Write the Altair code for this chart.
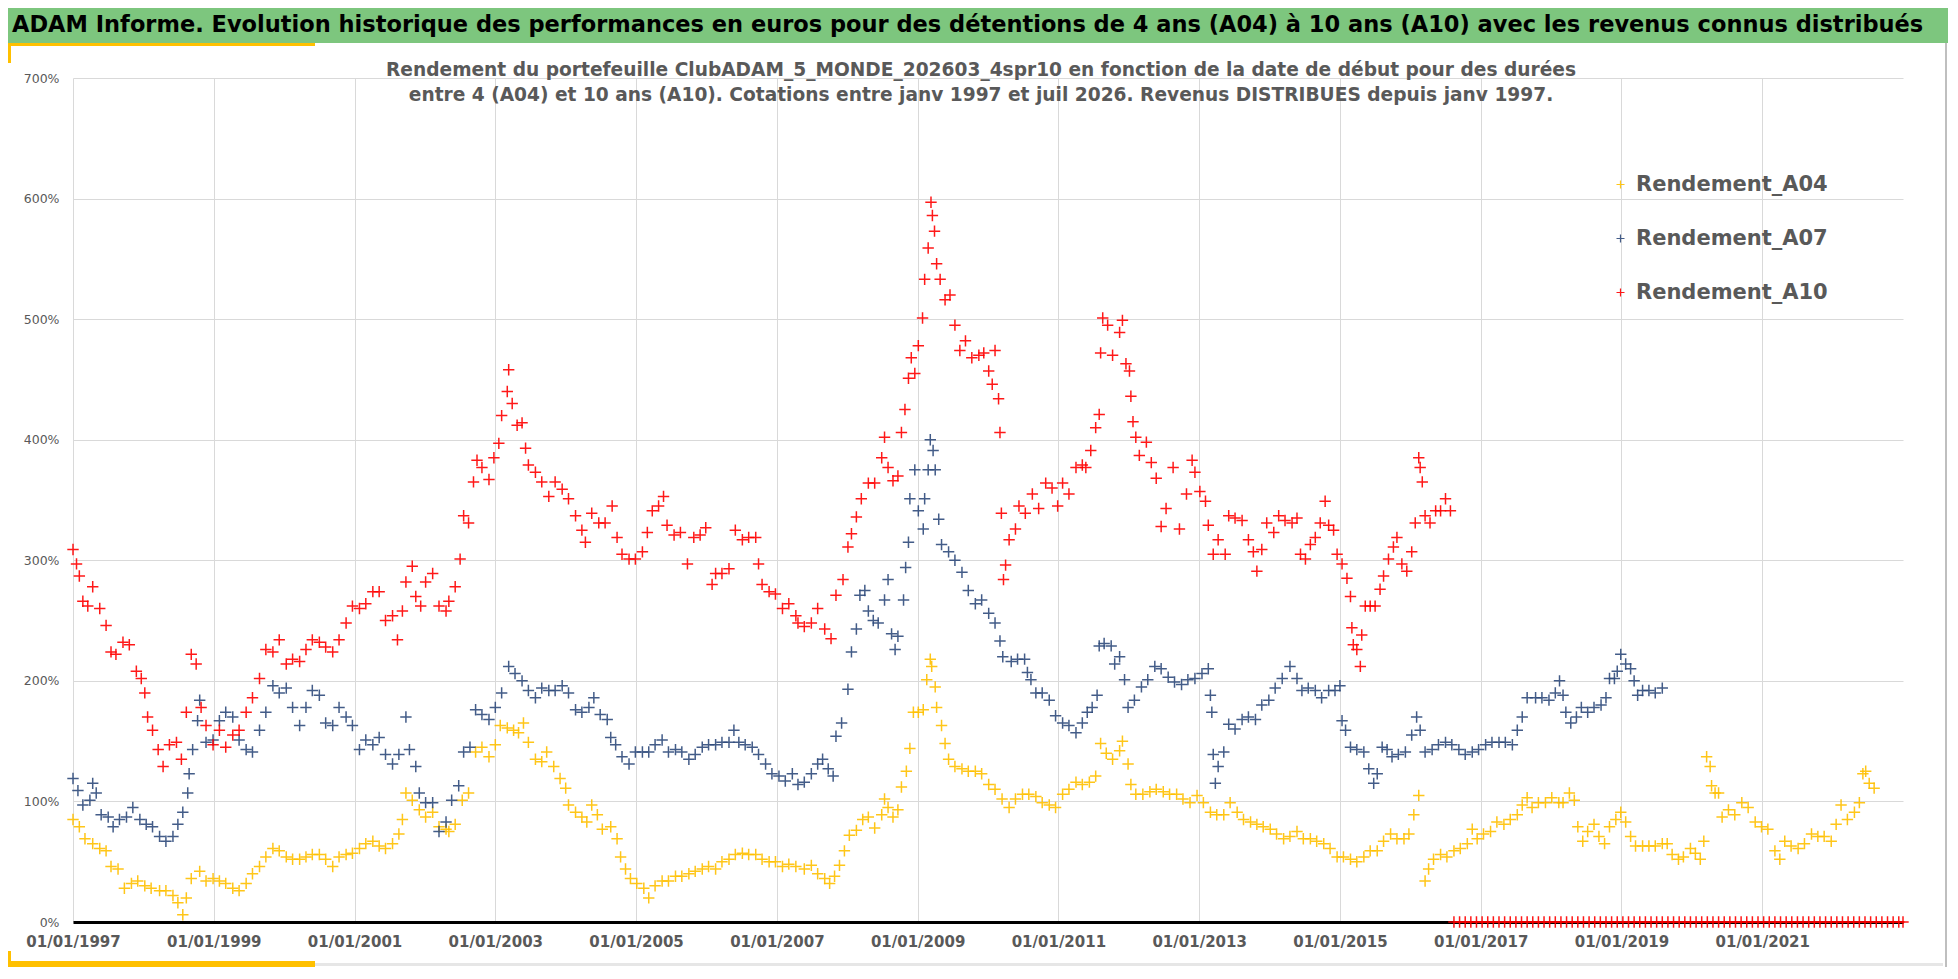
import pandas as pd
import altair as alt

# valeurs : (date en années décimales, rendement en %)
A04 = [
    (1997.00, 85), (1997.09, 79), (1997.17, 69), (1997.28, 65), (1997.38, 61), (1997.47, 59),
    (1997.54, 46), (1997.64, 44), (1997.73, 28), (1997.83, 32), (1997.92, 34), (1998.02, 30),
    (1998.11, 28), (1998.23, 26), (1998.32, 26), (1998.42, 22), (1998.49, 16), (1998.56, 6),
    (1998.61, 20), (1998.68, 36), (1998.80, 42), (1998.89, 34), (1998.99, 36), (1999.08, 34),
    (1999.17, 32), (1999.27, 28), (1999.36, 26), (1999.46, 32), (1999.55, 40), (1999.65, 46),
    (1999.74, 54), (1999.84, 61), (1999.93, 59), (2000.03, 54), (2000.12, 52), (2000.22, 52),
    (2000.31, 54), (2000.40, 56), (2000.50, 56), (2000.59, 52), (2000.69, 46), (2000.78, 54),
    (2000.88, 56), (2000.97, 57), (2001.07, 61), (2001.16, 65), (2001.26, 67), (2001.35, 63),
    (2001.44, 61), (2001.54, 65), (2001.63, 73), (2001.68, 85), (2001.73, 107), (2001.82, 101),
    (2001.92, 93), (2002.01, 87), (2002.11, 91), (2002.20, 79), (2002.30, 77), (2002.34, 75),
    (2002.43, 81), (2002.53, 101), (2002.62, 107), (2002.72, 141), (2002.81, 145), (2002.91, 137),
    (2003.00, 147), (2003.07, 163), (2003.17, 161), (2003.26, 159), (2003.33, 157), (2003.40, 165),
    (2003.47, 149), (2003.57, 135), (2003.66, 133), (2003.73, 141), (2003.83, 129), (2003.92, 119),
    (2004.00, 111), (2004.04, 97), (2004.14, 91), (2004.23, 87), (2004.30, 83), (2004.37, 97),
    (2004.45, 89), (2004.52, 77), (2004.64, 79), (2004.73, 69), (2004.78, 54), (2004.85, 44),
    (2004.92, 36), (2005.01, 32), (2005.11, 28), (2005.18, 20), (2005.27, 30), (2005.37, 34),
    (2005.46, 34), (2005.56, 38), (2005.65, 38), (2005.75, 40), (2005.84, 42), (2005.94, 44),
    (2006.03, 46), (2006.13, 44), (2006.22, 50), (2006.32, 52), (2006.41, 56), (2006.51, 57),
    (2006.60, 56), (2006.70, 56), (2006.79, 52), (2006.89, 50), (2006.98, 50), (2007.08, 46),
    (2007.17, 48), (2007.27, 46), (2007.39, 44), (2007.49, 47), (2007.58, 40), (2007.68, 36),
    (2007.75, 32), (2007.82, 38), (2007.89, 47), (2007.96, 59), (2008.03, 72), (2008.13, 76),
    (2008.22, 85), (2008.30, 87), (2008.39, 78), (2008.49, 89), (2008.53, 102), (2008.58, 95),
    (2008.65, 87), (2008.72, 93), (2008.77, 112), (2008.84, 125), (2008.89, 144), (2008.94, 174),
    (2009.01, 174), (2009.08, 176), (2009.13, 201), (2009.18, 218), (2009.20, 212), (2009.25, 195),
    (2009.27, 178), (2009.34, 163), (2009.39, 148), (2009.44, 135), (2009.53, 129), (2009.63, 127),
    (2009.72, 125), (2009.82, 125), (2009.91, 123), (2010.01, 114), (2010.10, 110), (2010.20, 102),
    (2010.30, 95), (2010.39, 102), (2010.49, 106), (2010.58, 106), (2010.68, 104), (2010.77, 99),
    (2010.87, 97), (2010.96, 95), (2011.06, 106), (2011.15, 110), (2011.25, 116), (2011.34, 114),
    (2011.44, 116), (2011.53, 121), (2011.60, 148), (2011.68, 140), (2011.77, 135), (2011.87, 142),
    (2011.91, 150), (2011.99, 131), (2012.03, 114), (2012.10, 106), (2012.20, 106), (2012.30, 108),
    (2012.39, 110), (2012.49, 108), (2012.58, 106), (2012.68, 106), (2012.77, 102), (2012.87, 99),
    (2012.97, 105), (2013.06, 99), (2013.16, 91), (2013.25, 89), (2013.35, 89), (2013.44, 99),
    (2013.54, 91), (2013.63, 85), (2013.73, 83), (2013.82, 81), (2013.91, 79), (2014.01, 77),
    (2014.10, 73), (2014.20, 69), (2014.29, 71), (2014.39, 75), (2014.48, 69), (2014.58, 69),
    (2014.67, 67), (2014.77, 65), (2014.86, 61), (2014.96, 54), (2015.05, 54), (2015.15, 52),
    (2015.24, 50), (2015.34, 54), (2015.43, 59), (2015.53, 59), (2015.62, 67), (2015.72, 73),
    (2015.81, 69), (2015.91, 69), (2015.98, 73), (2016.05, 89), (2016.12, 105), (2016.21, 34),
    (2016.26, 44), (2016.33, 52), (2016.43, 56), (2016.52, 54), (2016.62, 59), (2016.71, 61),
    (2016.81, 65), (2016.88, 77), (2016.95, 69), (2017.04, 73), (2017.14, 75), (2017.23, 83),
    (2017.33, 81), (2017.42, 85), (2017.52, 89), (2017.59, 97), (2017.66, 103), (2017.73, 95),
    (2017.82, 99), (2017.92, 99), (2018.01, 103), (2018.11, 99), (2018.17, 99), (2018.26, 107),
    (2018.33, 101), (2018.38, 79), (2018.45, 67), (2018.52, 75), (2018.61, 81), (2018.68, 71),
    (2018.76, 65), (2018.83, 79), (2018.92, 85), (2018.99, 91), (2019.06, 83), (2019.13, 71),
    (2019.20, 63), (2019.30, 63), (2019.39, 63), (2019.48, 63), (2019.58, 65), (2019.65, 65),
    (2019.72, 56), (2019.81, 52), (2019.88, 54), (2019.98, 61), (2020.05, 57), (2020.12, 52),
    (2020.17, 67), (2020.21, 137), (2020.26, 129), (2020.28, 113), (2020.33, 107), (2020.38, 107),
    (2020.43, 87), (2020.52, 93), (2020.61, 89), (2020.71, 99), (2020.80, 95), (2020.90, 83),
    (2020.99, 79), (2021.08, 77), (2021.18, 59), (2021.25, 52), (2021.32, 67), (2021.41, 63),
    (2021.51, 61), (2021.60, 65), (2021.70, 73), (2021.79, 71), (2021.88, 71), (2021.98, 67),
    (2022.05, 81), (2022.12, 97), (2022.21, 85), (2022.31, 91), (2022.38, 99), (2022.43, 123),
    (2022.47, 125), (2022.52, 115), (2022.59, 111),
]

A07 = [
    (1997.00, 119), (1997.07, 109), (1997.14, 97), (1997.24, 101), (1997.28, 115), (1997.33, 107),
    (1997.40, 89), (1997.50, 87), (1997.57, 79), (1997.66, 85), (1997.76, 87), (1997.85, 95),
    (1997.95, 85), (1998.04, 81), (1998.13, 79), (1998.23, 71), (1998.32, 67), (1998.42, 71),
    (1998.49, 81), (1998.56, 91), (1998.63, 107), (1998.65, 123), (1998.70, 143), (1998.77, 167),
    (1998.80, 184), (1998.89, 149), (1998.99, 151), (1999.08, 167), (1999.17, 174), (1999.27, 170),
    (1999.36, 151), (1999.46, 143), (1999.55, 141), (1999.65, 159), (1999.74, 174), (1999.84, 196),
    (1999.93, 190), (2000.03, 194), (2000.12, 178), (2000.22, 163), (2000.31, 178), (2000.40, 192),
    (2000.50, 188), (2000.59, 165), (2000.69, 163), (2000.78, 178), (2000.88, 170), (2000.97, 163),
    (2001.07, 143), (2001.16, 151), (2001.26, 147), (2001.35, 153), (2001.44, 139), (2001.54, 131),
    (2001.63, 139), (2001.73, 170), (2001.78, 143), (2001.87, 129), (2001.92, 107), (2002.01, 99),
    (2002.11, 99), (2002.20, 75), (2002.30, 83), (2002.38, 101), (2002.48, 113), (2002.55, 141),
    (2002.64, 145), (2002.72, 176), (2002.81, 172), (2002.91, 168), (2003.00, 178), (2003.09, 190),
    (2003.19, 212), (2003.28, 206), (2003.38, 200), (2003.47, 192), (2003.57, 186), (2003.66, 194),
    (2003.76, 192), (2003.85, 192), (2003.95, 196), (2004.04, 190), (2004.14, 176), (2004.23, 174),
    (2004.33, 178), (2004.40, 186), (2004.49, 172), (2004.59, 168), (2004.64, 153), (2004.71, 147),
    (2004.80, 137), (2004.90, 131), (2004.99, 141), (2005.09, 141), (2005.18, 141), (2005.27, 147),
    (2005.37, 151), (2005.46, 141), (2005.56, 143), (2005.65, 141), (2005.75, 135), (2005.84, 139),
    (2005.94, 145), (2006.03, 147), (2006.13, 147), (2006.22, 149), (2006.32, 149), (2006.39, 159),
    (2006.46, 149), (2006.55, 147), (2006.65, 145), (2006.74, 139), (2006.84, 131), (2006.93, 123),
    (2007.03, 121), (2007.12, 117), (2007.22, 123), (2007.30, 114), (2007.39, 116), (2007.49, 123),
    (2007.58, 131), (2007.65, 135), (2007.73, 127), (2007.80, 121), (2007.84, 154), (2007.92, 165),
    (2008.01, 193), (2008.06, 224), (2008.13, 243), (2008.18, 271), (2008.25, 275), (2008.30, 258),
    (2008.37, 250), (2008.44, 248), (2008.53, 267), (2008.58, 284), (2008.63, 239), (2008.68, 226),
    (2008.72, 237), (2008.80, 267), (2008.83, 294), (2008.87, 315), (2008.89, 351), (2008.96, 375),
    (2009.01, 341), (2009.08, 326), (2009.10, 351), (2009.15, 375), (2009.18, 400), (2009.22, 391),
    (2009.25, 375), (2009.30, 334), (2009.34, 313), (2009.44, 307), (2009.53, 300), (2009.63, 290),
    (2009.72, 275), (2009.82, 264), (2009.91, 267), (2010.01, 256), (2010.10, 248), (2010.17, 233),
    (2010.21, 220), (2010.33, 216), (2010.42, 218), (2010.52, 218), (2010.56, 207), (2010.61, 201),
    (2010.68, 190), (2010.77, 190), (2010.87, 184), (2010.96, 171), (2011.06, 165), (2011.15, 163),
    (2011.25, 157), (2011.34, 165), (2011.41, 174), (2011.48, 178), (2011.55, 188), (2011.58, 229),
    (2011.65, 231), (2011.75, 229), (2011.80, 214), (2011.87, 220), (2011.94, 201), (2011.99, 178),
    (2012.08, 184), (2012.18, 195), (2012.27, 201), (2012.37, 212), (2012.46, 210), (2012.56, 203),
    (2012.65, 199), (2012.75, 197), (2012.84, 201), (2012.94, 202), (2013.04, 206), (2013.13, 210),
    (2013.16, 188), (2013.18, 174), (2013.20, 139), (2013.23, 115), (2013.27, 129), (2013.35, 141),
    (2013.42, 164), (2013.51, 160), (2013.61, 168), (2013.70, 170), (2013.80, 168), (2013.89, 180),
    (2013.99, 184), (2014.08, 194), (2014.18, 202), (2014.29, 212), (2014.39, 202), (2014.46, 192),
    (2014.55, 194), (2014.65, 192), (2014.74, 186), (2014.84, 192), (2014.93, 192), (2015.00, 196),
    (2015.03, 167), (2015.08, 159), (2015.15, 145), (2015.24, 143), (2015.34, 141), (2015.41, 127),
    (2015.48, 115), (2015.53, 123), (2015.60, 145), (2015.67, 143), (2015.74, 137), (2015.83, 139),
    (2015.93, 141), (2016.02, 155), (2016.09, 170), (2016.14, 159), (2016.21, 141), (2016.31, 143),
    (2016.40, 147), (2016.50, 149), (2016.59, 147), (2016.69, 143), (2016.78, 139), (2016.88, 141),
    (2016.97, 143), (2017.07, 147), (2017.16, 149), (2017.26, 149), (2017.35, 149), (2017.45, 147),
    (2017.52, 159), (2017.59, 170), (2017.66, 186), (2017.78, 186), (2017.87, 186), (2017.97, 184),
    (2018.06, 190), (2018.12, 200), (2018.17, 188), (2018.21, 174), (2018.28, 165), (2018.36, 170),
    (2018.43, 178), (2018.52, 174), (2018.61, 178), (2018.71, 180), (2018.78, 186), (2018.83, 202),
    (2018.90, 202), (2018.94, 208), (2018.99, 222), (2019.06, 214), (2019.13, 210), (2019.18, 200),
    (2019.23, 188), (2019.30, 192), (2019.39, 192), (2019.48, 190), (2019.58, 194),
]

A10 = [
    (1997.00, 309), (1997.05, 297), (1997.09, 287), (1997.14, 266), (1997.21, 262), (1997.28, 278),
    (1997.38, 260), (1997.47, 246), (1997.54, 224), (1997.61, 222), (1997.71, 232), (1997.80, 230),
    (1997.90, 208), (1997.97, 202), (1998.02, 190), (1998.06, 170), (1998.13, 159), (1998.21, 143),
    (1998.28, 129), (1998.37, 147), (1998.47, 149), (1998.54, 135), (1998.61, 174), (1998.68, 222),
    (1998.75, 214), (1998.82, 178), (1998.89, 163), (1998.99, 147), (1999.08, 159), (1999.17, 145),
    (1999.27, 155), (1999.36, 159), (1999.46, 174), (1999.55, 186), (1999.65, 202), (1999.74, 226),
    (1999.84, 224), (1999.93, 234), (2000.03, 214), (2000.12, 218), (2000.22, 216), (2000.31, 226),
    (2000.40, 234), (2000.50, 232), (2000.59, 228), (2000.69, 224), (2000.78, 234), (2000.88, 248),
    (2000.97, 262), (2001.07, 260), (2001.16, 264), (2001.26, 274), (2001.35, 274), (2001.44, 250),
    (2001.54, 254), (2001.61, 234), (2001.68, 258), (2001.73, 282), (2001.82, 295), (2001.87, 270),
    (2001.94, 262), (2002.01, 282), (2002.11, 289), (2002.20, 262), (2002.30, 258), (2002.34, 266),
    (2002.43, 278), (2002.50, 301), (2002.55, 337), (2002.62, 331), (2002.69, 365), (2002.74, 383),
    (2002.81, 377), (2002.91, 367), (2002.98, 385), (2003.05, 397), (2003.09, 420), (2003.17, 440),
    (2003.19, 458), (2003.24, 430), (2003.31, 412), (2003.38, 414), (2003.43, 393), (2003.47, 379),
    (2003.57, 373), (2003.66, 365), (2003.76, 353), (2003.85, 365), (2003.95, 359), (2004.04, 351),
    (2004.14, 337), (2004.23, 325), (2004.28, 315), (2004.37, 339), (2004.47, 331), (2004.56, 331),
    (2004.66, 345), (2004.73, 319), (2004.80, 305), (2004.90, 301), (2004.99, 301), (2005.09, 307),
    (2005.16, 323), (2005.23, 341), (2005.32, 345), (2005.39, 353), (2005.44, 329), (2005.54, 321),
    (2005.63, 323), (2005.73, 297), (2005.82, 319), (2005.91, 321), (2005.99, 327), (2006.08, 280),
    (2006.13, 289), (2006.22, 289), (2006.32, 293), (2006.41, 325), (2006.51, 317), (2006.60, 319),
    (2006.70, 319), (2006.74, 297), (2006.79, 280), (2006.89, 274), (2006.98, 272), (2007.08, 260),
    (2007.17, 264), (2007.27, 254), (2007.30, 248), (2007.39, 245), (2007.49, 248), (2007.58, 260),
    (2007.68, 243), (2007.77, 235), (2007.84, 271), (2007.94, 284), (2008.01, 311), (2008.06, 322),
    (2008.13, 336), (2008.20, 351), (2008.30, 364), (2008.39, 364), (2008.49, 385), (2008.53, 402),
    (2008.58, 377), (2008.65, 366), (2008.72, 370), (2008.77, 406), (2008.82, 425), (2008.87, 451),
    (2008.91, 468), (2008.96, 455), (2009.01, 478), (2009.07, 501), (2009.10, 533), (2009.15, 559),
    (2009.19, 597), (2009.21, 586), (2009.24, 573), (2009.27, 546), (2009.32, 533), (2009.39, 516),
    (2009.46, 520), (2009.53, 495), (2009.60, 474), (2009.68, 482), (2009.77, 468), (2009.87, 470),
    (2009.94, 472), (2010.01, 457), (2010.06, 446), (2010.10, 474), (2010.15, 434), (2010.17, 406),
    (2010.19, 339), (2010.22, 284), (2010.25, 296), (2010.30, 317), (2010.39, 326), (2010.44, 345),
    (2010.53, 339), (2010.63, 355), (2010.72, 343), (2010.82, 364), (2010.91, 360), (2010.99, 345),
    (2011.06, 364), (2011.15, 355), (2011.25, 377), (2011.34, 379), (2011.39, 377), (2011.46, 391),
    (2011.53, 410), (2011.58, 421), (2011.60, 472), (2011.63, 501), (2011.70, 495), (2011.77, 470),
    (2011.87, 489), (2011.91, 499), (2011.96, 463), (2012.01, 457), (2012.03, 436), (2012.06, 415),
    (2012.10, 402), (2012.15, 387), (2012.25, 398), (2012.32, 381), (2012.39, 368), (2012.46, 328),
    (2012.53, 343), (2012.63, 377), (2012.72, 326), (2012.82, 355), (2012.90, 383), (2012.94, 373),
    (2013.01, 357), (2013.09, 349), (2013.13, 329), (2013.20, 305), (2013.27, 317), (2013.37, 305),
    (2013.42, 337), (2013.51, 335), (2013.61, 333), (2013.70, 317), (2013.77, 307), (2013.82, 291),
    (2013.89, 309), (2013.96, 331), (2014.06, 323), (2014.13, 337), (2014.22, 333), (2014.32, 331),
    (2014.39, 335), (2014.44, 305), (2014.51, 301), (2014.58, 313), (2014.65, 319), (2014.72, 331),
    (2014.79, 349), (2014.84, 329), (2014.91, 325), (2014.96, 305), (2015.03, 297), (2015.10, 285),
    (2015.15, 270), (2015.17, 244), (2015.19, 230), (2015.24, 226), (2015.29, 212), (2015.31, 238),
    (2015.36, 262), (2015.43, 262), (2015.50, 262), (2015.57, 276), (2015.62, 287), (2015.69, 301),
    (2015.76, 311), (2015.81, 319), (2015.88, 297), (2015.95, 291), (2016.02, 307), (2016.07, 331),
    (2016.12, 385), (2016.14, 377), (2016.17, 365), (2016.21, 337), (2016.28, 331), (2016.36, 341),
    (2016.43, 341), (2016.50, 351), (2016.57, 341),
]

# dates où le rendement A10 n'est pas encore connu : tracées à 0 %
A10_ZERO = [
    2016.62, 2016.70, 2016.78, 2016.86, 2016.94, 2017.02, 2017.10, 2017.18, 2017.26, 2017.34,
    2017.42, 2017.50, 2017.58, 2017.66, 2017.74, 2017.82, 2017.90, 2017.98, 2018.06, 2018.14,
    2018.22, 2018.30, 2018.38, 2018.46, 2018.54, 2018.62, 2018.70, 2018.78, 2018.86, 2018.94,
    2019.02, 2019.10, 2019.18, 2019.26, 2019.34, 2019.42, 2019.50, 2019.58, 2019.66, 2019.74,
    2019.82, 2019.90, 2019.98, 2020.06, 2020.14, 2020.22, 2020.30, 2020.38, 2020.46, 2020.54,
    2020.62, 2020.70, 2020.78, 2020.86, 2020.94, 2021.02, 2021.10, 2021.18, 2021.26, 2021.34,
    2021.42, 2021.50, 2021.58, 2021.66, 2021.74, 2021.82, 2021.90, 2021.98, 2022.06, 2022.14,
    2022.22, 2022.30, 2022.38, 2022.46, 2022.54, 2022.62, 2022.70, 2022.78, 2022.86, 2022.94,
    2023.00,
]

SERIES = ["Rendement_A04", "Rendement_A07", "Rendement_A10"]
COLORS = ["#FFC000", "#2F4B7C", "#FF0000"]
X_TICKS = [1997, 1999, 2001, 2003, 2005, 2007, 2009, 2011, 2013, 2015, 2017, 2019, 2021]
Y_TICKS = [0, 100, 200, 300, 400, 500, 600, 700]

TITLE = ("ADAM Informe. Evolution historique des performances en euros pour des détentions "
         "de 4 ans (A04) à 10 ans (A10) avec les revenus connus distribués")
SUB1 = ("Rendement du portefeuille ClubADAM_5_MONDE_202603_4spr10  en fonction de la date "
        "de début pour des durées")
SUB2 = ("entre 4 (A04) et 10 ans (A10). Cotations entre janv 1997 et juil 2026. "
        "Revenus DISTRIBUES depuis janv 1997.")

frames = []
for name, pts in zip(SERIES, [A04, A07, A10 + [(y, 0) for y in A10_ZERO]]):
    frames.append(pd.DataFrame(pts, columns=["annee", "rendement"]).assign(serie=name))
df = pd.concat(frames, ignore_index=True)

W, H = 1830, 844
FONT = "DejaVu Sans"
GREY = "#595959"
CROSS = "M-1,0L1,0M0,-1L0,1"
one = pd.DataFrame({"k": [0]})


def box(color, x, x2, y, y2):
    return alt.Chart(one).mark_rect(color=color).encode(
        x=alt.value(x), x2=alt.value(x2), y=alt.value(y), y2=alt.value(y2)
    )


def label(text, x, y, size, color, align="left"):
    return alt.Chart(one).mark_text(
        font=FONT, fontWeight="bold", fontSize=size, color=color, align=align, baseline="middle"
    ).encode(x=alt.value(x), y=alt.value(y), text=alt.value(text))


# bandeau et filets décoratifs
header = box("#7DC67E", -65, 1875, -70, -35)
under = box("#FFC000", -65, 242, -35, -32)
left_tick = box("#FFC000", -65, -62, -35, -15)
bottom_y = box("#FFC000", -65, 242, 883, 889)
bottom_g = box("#E6E6E6", 242, 1870, 885, 888)
bottom_l = box("#FFC000", -65, -62, 873, 889)
right_b = box("#BFBFBF", 1872, 1874, -35, 889)

points = alt.Chart(df).mark_point(
    shape=CROSS, filled=False, size=130, strokeWidth=1.5, opacity=0.9
).encode(
    x=alt.X(
        "annee:Q",
        scale=alt.Scale(domain=[1997, 2023], nice=False, zero=False),
        axis=alt.Axis(
            values=X_TICKS, labelExpr="'01/01/' + datum.value", title=None,
            grid=True, gridColor="#D9D9D9", domainColor="black", domainWidth=3,
            ticks=False, labelFont=FONT, labelFontWeight="bold", labelFontSize=15,
            labelColor=GREY, labelPadding=12, labelFlush=False, labelOverlap=False,
        ),
    ),
    y=alt.Y(
        "rendement:Q",
        scale=alt.Scale(domain=[0, 700], nice=False),
        axis=alt.Axis(
            values=Y_TICKS, labelExpr="datum.value + '%'", title=None, domain=False,
            ticks=False, grid=True, gridColor="#D9D9D9", labelFont=FONT,
            labelFontSize=12.5, labelColor=GREY, labelPadding=14,
        ),
    ),
    color=alt.Color(
        "serie:N",
        scale=alt.Scale(domain=SERIES, range=COLORS),
        legend=alt.Legend(
            title=None, orient="none", legendX=1537, legendY=96,
            symbolType=CROSS, symbolSize=64, symbolStrokeWidth=1.2,
            labelFont=FONT, labelFontWeight="bold", labelFontSize=21,
            labelColor=GREY, labelOffset=5, labelLimit=400, rowPadding=32,
        ),
    ),
)

chart = alt.layer(
    header, under, left_tick, bottom_y, bottom_g, bottom_l, right_b,
    label(TITLE, -61, -53, 22.5, "black"),
    label(SUB1, 908, -8, 18.6, GREY, "center"),
    label(SUB2, 908, 17, 18.6, GREY, "center"),
    points,
).properties(
    width=W, height=H,
    autosize=alt.AutoSizeParams(type="none"),
    padding={"left": 65, "top": 70, "right": 45, "bottom": 46},
).configure_view(stroke=None)

chart.save("out.html", embed_options={"renderer": "svg", "actions": False})
